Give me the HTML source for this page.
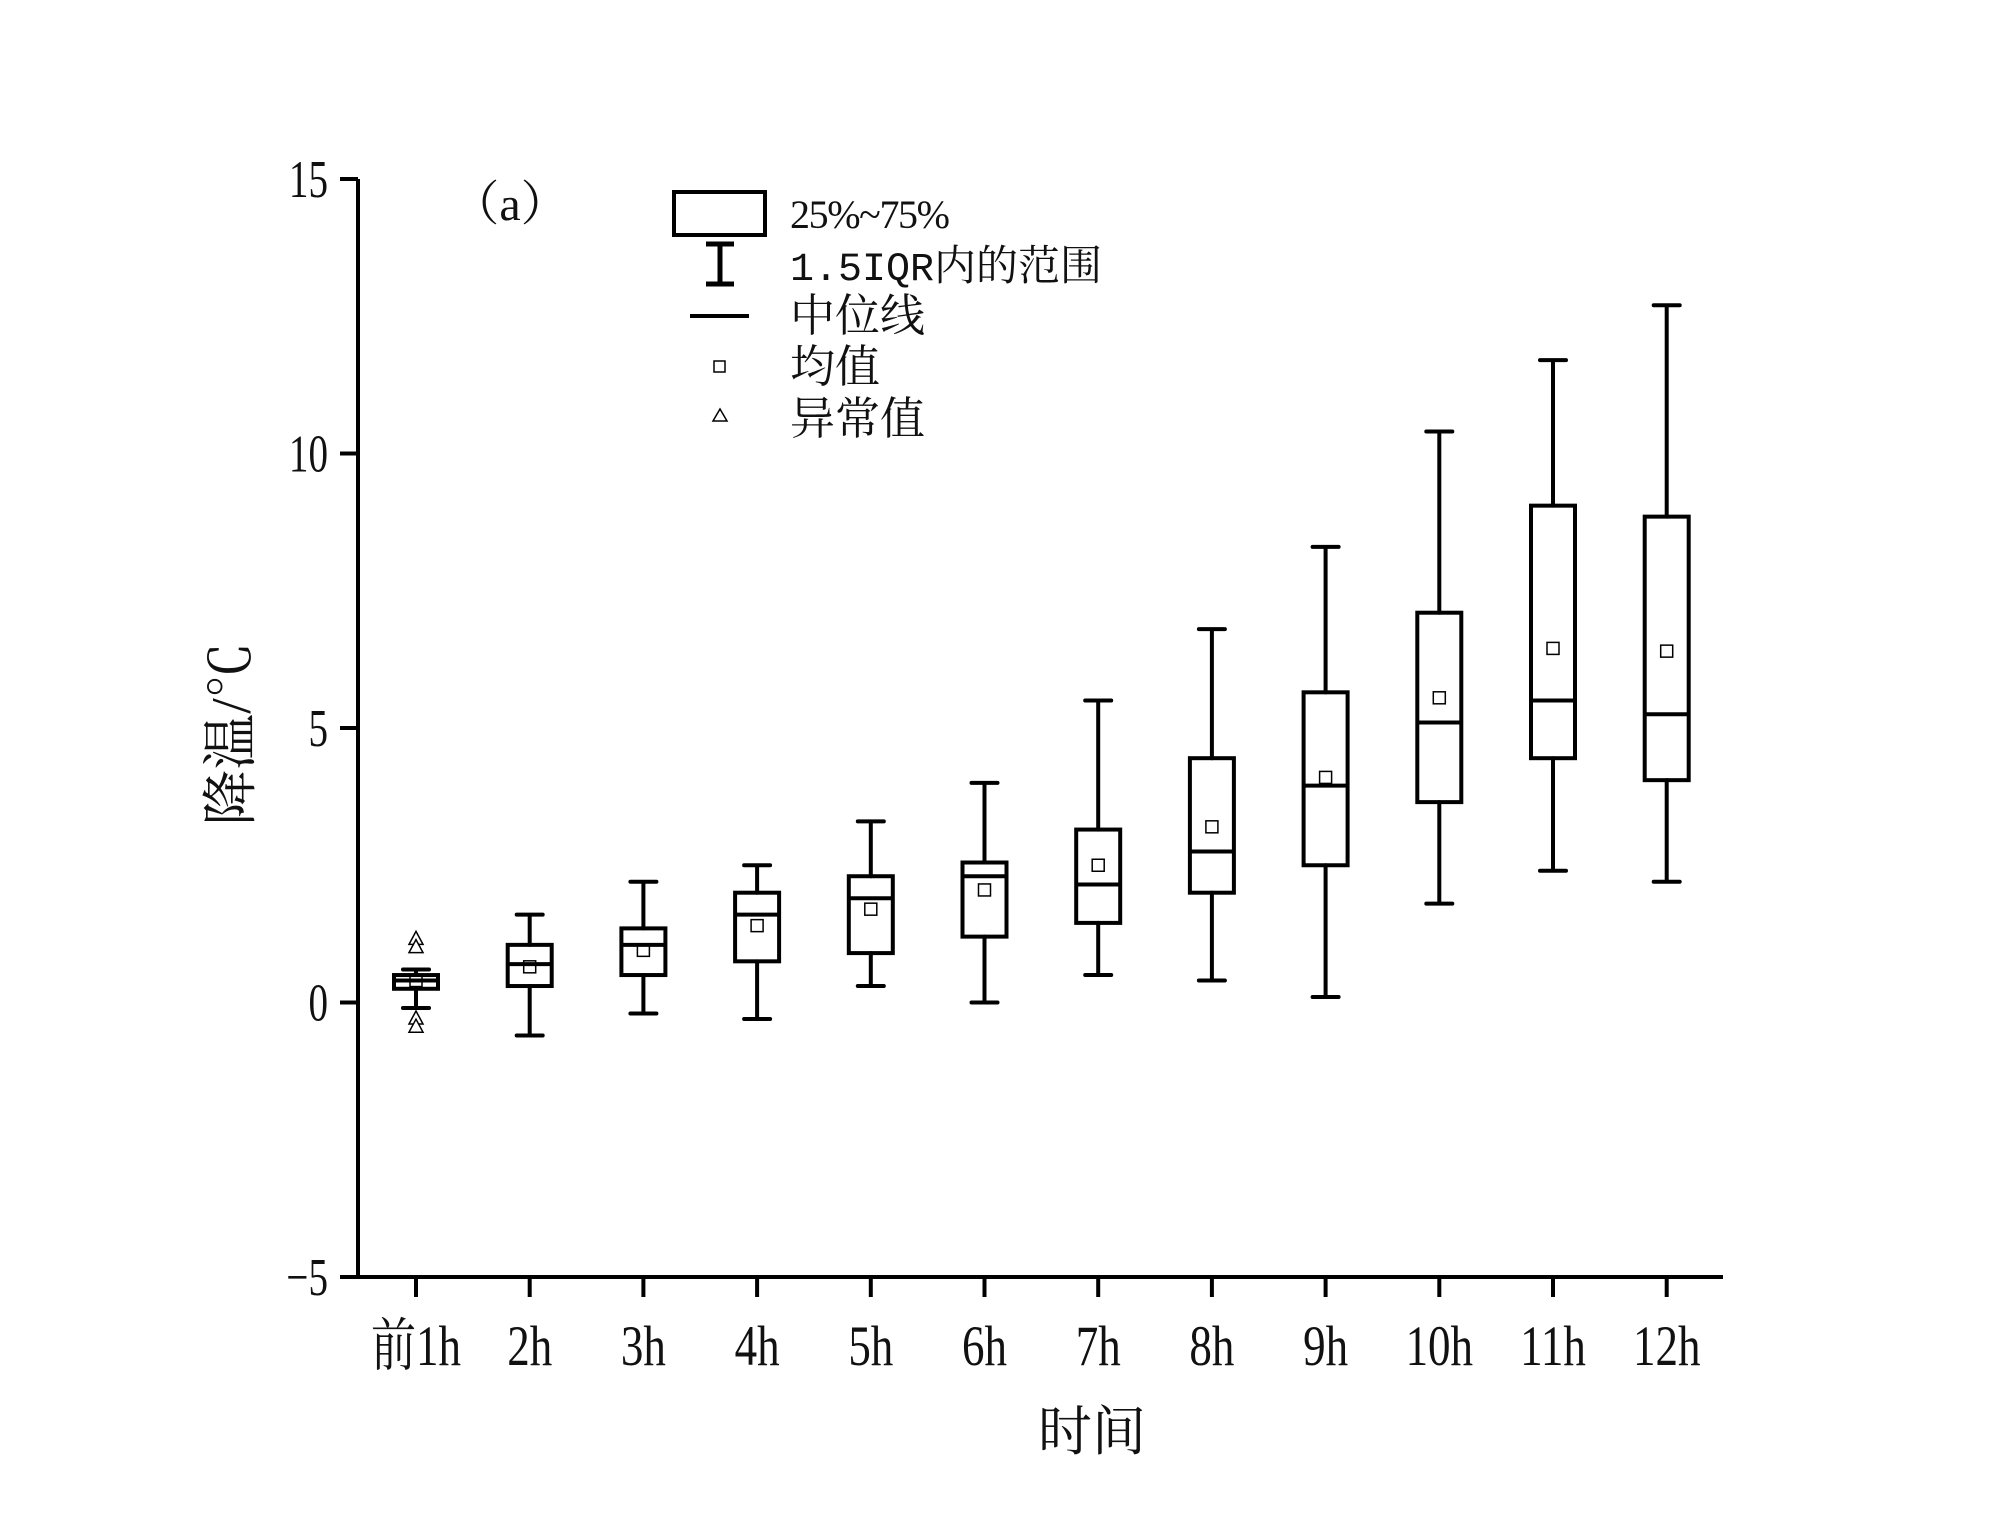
<!DOCTYPE html>
<html><head><meta charset="utf-8"><style>
html,body{margin:0;padding:0;background:#fff}
svg{display:block}
text{font-family:"Liberation Serif","Noto Serif CJK SC",serif;fill:#111}
</style></head><body>
<svg id="chart" width="2000" height="1530" viewBox="0 0 2000 1530" xmlns="http://www.w3.org/2000/svg">
<g id="axes"></g>
<g id="boxes"></g>
<text x="510" y="220" font-size="48" text-anchor="middle">（a）</text>
<g font-size="42">
<rect x="674" y="192" width="91" height="43" fill="none" stroke="#000" stroke-width="4"/>
<text x="790" y="228" font-family="Liberation Mono, monospace" font-size="40" textLength="160">25%~75%</text>
<path d="M706 244H734M720 244V284M706 284H734" stroke="#000" stroke-width="5" fill="none"/>
<text x="790" y="280"><tspan font-family="Liberation Mono, monospace" font-size="40">1.5IQR</tspan>内的范围</text>
<path d="M690 316H749" stroke="#000" stroke-width="4"/>
<text x="790" y="331" font-size="45">中位线</text>
<rect x="714" y="361" width="11" height="11" fill="none" stroke="#000" stroke-width="1.5"/>
<text x="790" y="382" font-size="45">均值</text>
<path d="M720 409L727 421H713Z" fill="none" stroke="#000" stroke-width="1.5"/>
<text x="790" y="434" font-size="45">异常值</text>
</g>
<text transform="translate(250,734) rotate(-90)" font-size="56" text-anchor="middle">降温/℃</text>
<text x="1092" y="1450" font-size="54" text-anchor="middle">时间</text>
</svg>
<script>
const categories=["前1h","2h","3h","4h","5h","6h","7h","8h","9h","10h","11h","12h"];
const whiskerHigh=[0.6,1.6,2.2,2.5,3.3,4.0,5.5,6.8,8.3,10.4,11.7,12.7];
const whiskerLow=[-0.1,-0.6,-0.2,-0.3,0.3,0.0,0.5,0.4,0.1,1.8,2.4,2.2];
const q3=[0.5,1.05,1.35,2.0,2.3,2.55,3.15,4.45,5.65,7.1,9.05,8.85];
const q1=[0.25,0.3,0.5,0.75,0.9,1.2,1.45,2.0,2.5,3.65,4.45,4.05];
const medians=[0.4,0.7,1.05,1.6,1.9,2.3,2.15,2.75,3.95,5.1,5.5,5.25];
const means=[0.4,0.65,0.95,1.4,1.7,2.05,2.5,3.2,4.1,5.55,6.45,6.4];
const outlierCat=[0,0,0,0];
const outlierVal=[1.15,1.0,-0.3,-0.45];
const yTicks=[-5,0,5,10,15];

const NS="http://www.w3.org/2000/svg";
const X0=358,XEND=1723,Y0=1277,Y1=179,YMIN=-5,YMAX=15;
const y=v=>Y0-(v-YMIN)/(YMAX-YMIN)*(Y0-Y1);
const x=i=>416+i*113.7;
function mk(tag,attrs,parent){const e=document.createElementNS(NS,tag);for(const k in attrs)e.setAttribute(k,attrs[k]);parent.appendChild(e);return e;}
const axes=document.getElementById('axes'),boxes=document.getElementById('boxes');
let e=mk('path',{d:`M${X0} ${Y1}V${Y0}H${XEND}`,stroke:'#000','stroke-width':4,fill:'none'},axes);


yTicks.forEach(t=>{
  let l=mk('line',{x1:X0-18,x2:X0,y1:y(t),y2:y(t),stroke:'#000','stroke-width':4},axes);
  
  
  let tx=mk('text',{transform:`translate(${X0-30},${y(t)+18}) scale(0.85,1.15)`,'font-size':46,'text-anchor':'end'},axes);
  tx.textContent=t<0?'−'+Math.abs(t):String(t);
  
  
});
categories.forEach((c,i)=>{
  let l=mk('line',{x1:x(i),x2:x(i),y1:Y0,y2:Y0+20,stroke:'#000','stroke-width':4},axes);
  
  
  let tx=mk('text',{transform:`translate(${x(i)},${Y0+88}) scale(0.9,1.15)`,'font-size':50,'text-anchor':'middle'},axes);
  tx.textContent=c;
  
  
  const g=mk('g',{},boxes);
  
  
  const cx=x(i),hw=22,cw=13;
  mk('path',{d:`M${cx} ${y(whiskerHigh[i])}V${y(q3[i])}M${cx} ${y(q1[i])}V${y(whiskerLow[i])}M${cx-cw} ${y(whiskerHigh[i])}H${cx+cw}M${cx-cw} ${y(whiskerLow[i])}H${cx+cw}`,stroke:'#000','stroke-width':4,fill:'none','stroke-linecap':'round'},g);
  mk('rect',{x:cx-hw,y:y(q3[i]),width:2*hw,height:y(q1[i])-y(q3[i]),fill:'none',stroke:'#000','stroke-width':4},g);
  mk('line',{x1:cx-hw,x2:cx+hw,y1:y(medians[i]),y2:y(medians[i]),stroke:'#000','stroke-width':4},g);
  mk('rect',{x:cx-6,y:y(means[i])-6,width:12,height:12,fill:'none',stroke:'#000','stroke-width':1.5},g);
});
outlierCat.forEach((c,k)=>{
  const cx=x(c),cy=y(outlierVal[k]);
  let p=mk('path',{d:`M${cx} ${cy-8}L${cx+7} ${cy+5}H${cx-7}Z`,fill:'#fff',stroke:'#000','stroke-width':1.5},boxes);
  
  
});
</script>
</body></html>
